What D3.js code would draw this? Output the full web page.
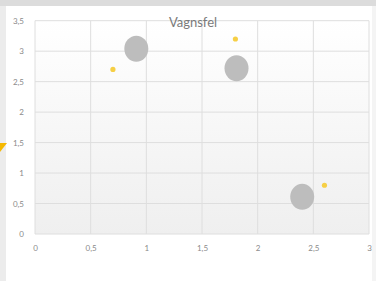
<!DOCTYPE html>
<html><head><meta charset="utf-8">
<script src="https://cdn.jsdelivr.net/npm/d3@7"></script>
<style>
html,body{margin:0;padding:0;background:#fff;overflow:hidden;}
svg{display:block;font-family:Lato,"Open Sans",sans-serif;}
</style></head>
<body>
<svg id="c" width="376" height="281"></svg>
<script>
const title = "Vagnsfel";
const bubbleX = [0.91, 1.81, 2.40];
const bubbleY = [3.04, 2.72, 0.61];
const pointX = [0.70, 1.80, 2.60];
const pointY = [2.70, 3.20, 0.80];
const xTicks = [0, 0.5, 1, 1.5, 2, 2.5, 3];
const yTicks = [0, 0.5, 1, 1.5, 2, 2.5, 3, 3.5];

const svg = d3.select("#c");
const fmt = d => String(d).replace(".", ",");

// frame / backdrop
svg.append("rect").attr("x",0).attr("y",0).attr("width",376).attr("height",281).attr("fill","#fff");
svg.append("rect").attr("x",0).attr("y",0).attr("width",376).attr("height",6).attr("fill","#dcdcdc");
svg.append("rect").attr("x",0).attr("y",6).attr("width",6).attr("height",275).attr("fill","#ececec");
svg.append("rect").attr("x",372).attr("y",6).attr("width",4).attr("height",275).attr("fill","#f4f4f4");
svg.append("path").attr("d","M0,143 L7,143 L0,152 Z").attr("fill","#f5b800");

const x = d3.scaleLinear().domain([0,3]).range([35,369]);
const y = d3.scaleLinear().domain([0,3.5]).range([234,20.7]);

const defs = svg.append("defs");
const g = defs.append("linearGradient").attr("id","bg").attr("x1",0).attr("y1",0).attr("x2",0).attr("y2",1);
g.append("stop").attr("offset","0%").attr("stop-color","#ffffff");
g.append("stop").attr("offset","100%").attr("stop-color","#efefef");
svg.append("rect").attr("x",x(0)).attr("y",y(3.5)).attr("width",x(3)-x(0)).attr("height",y(0)-y(3.5)).attr("fill","url(#bg)");

// grid
svg.append("g").selectAll("line").data(xTicks).join("line")
  .attr("x1",d=>x(d)).attr("x2",d=>x(d)).attr("y1",y(0)).attr("y2",y(3.5))
  .attr("stroke","#dedede").attr("stroke-width",1);
svg.append("g").selectAll("line").data(yTicks).join("line")
  .attr("x1",x(0)).attr("x2",x(3)).attr("y1",d=>y(d)).attr("y2",d=>y(d))
  .attr("stroke","#dedede").attr("stroke-width",1);

// axes labels
const xa = svg.append("g").attr("transform",`translate(0,${y(0)+8})`)
  .call(d3.axisBottom(x).tickValues(xTicks).tickFormat(fmt).tickSize(0));
xa.select(".domain").remove();
xa.selectAll("text").attr("fill","#8a8a8a").attr("font-size",8).attr("font-family","Lato,sans-serif");
const ya = svg.append("g").attr("transform",`translate(${x(0)-8},0)`)
  .call(d3.axisLeft(y).tickValues(yTicks).tickFormat(fmt).tickSize(0));
ya.select(".domain").remove();
ya.selectAll("text").attr("fill","#8a8a8a").attr("font-size",8).attr("font-family","Lato,sans-serif");

// title
svg.append("text").attr("x",193).attr("y",27).attr("text-anchor","middle")
  .attr("font-size",13).attr("fill","#7a7a7a").text(title);

// bubbles
svg.append("g").selectAll("ellipse").data(bubbleX).join("ellipse")
  .attr("cx",(d)=>x(d)).attr("cy",(d,i)=>y(bubbleY[i]))
  .attr("rx",12).attr("ry",13).attr("fill","#bdbdbd");
svg.append("g").selectAll("circle").data(pointX).join("circle")
  .attr("cx",(d)=>x(d)).attr("cy",(d,i)=>y(pointY[i]))
  .attr("r",2.6).attr("fill","#f6cf45");
</script>
</body></html>
